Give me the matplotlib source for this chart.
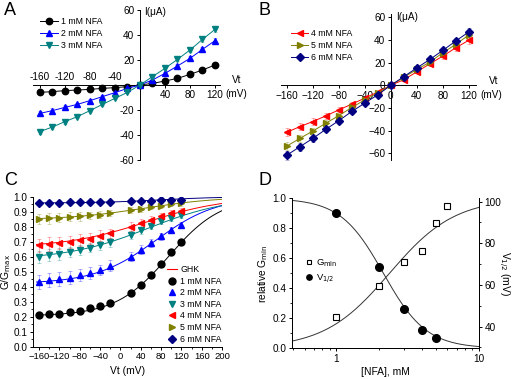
import numpy as np
import matplotlib
matplotlib.use('Agg')
import matplotlib.pyplot as plt
from matplotlib.lines import Line2D
from matplotlib.ticker import MultipleLocator, FormatStrFormatter, LogLocator, NullFormatter

plt.rcParams['font.family'] = ['Liberation Sans', 'DejaVu Sans']
plt.rcParams['axes.linewidth'] = 0.7
plt.rcParams['xtick.major.width'] = 0.7
plt.rcParams['ytick.major.width'] = 0.7
plt.rcParams['xtick.minor.width'] = 0.6
plt.rcParams['ytick.minor.width'] = 0.6
plt.rcParams['xtick.major.size'] = 2.5
plt.rcParams['ytick.major.size'] = 2.5
plt.rcParams['xtick.minor.size'] = 1.5
plt.rcParams['ytick.minor.size'] = 1.5
plt.rcParams['xtick.major.pad'] = 1.5
plt.rcParams['ytick.major.pad'] = 1.5

TICK_FS = 7.2
LEG_FS = 6.3
LAB_FS = 7.4

# ---------------- 数据 ----------------
# A / B: I-V 曲线
vt_iv = [-160, -140, -120, -100, -80, -60, -40, -20, 0, 20, 40, 60, 80, 100, 120]
i_1mM = [-5.9, -5.3, -4.5, -4.0, -3.5, -2.7, -2.1, -1.3, 0, 1.3, 3.2, 5.3, 8.5, 12.0, 16.0]
i_2mM = [-22.7, -20.5, -17.9, -15.5, -12.5, -9.3, -6.1, -2.7, 0, 4.0, 9.3, 15.2, 21.3, 28.5, 35.5]
i_3mM = [-37.3, -33.6, -29.3, -25.3, -20.5, -15.5, -10.7, -5.9, 0, 6.7, 13.3, 20.5, 28.0, 36.5, 44.5]
i_4mM = [-41.5, -36.5, -32.0, -27.0, -21.7, -16.6, -11.3, -5.9, 0, 5.0, 11.9, 19.0, 25.8, 33.2, 39.8]
i_5mM = [-53.7, -46.9, -40.4, -33.5, -26.7, -19.6, -12.8, -6.8, 0, 7.1, 14.0, 20.5, 28.8, 36.2, 44.5]
i_6mM = [-61.7, -54.3, -46.9, -38.9, -31.2, -23.1, -15.7, -8.3, 0, 7.7, 15.4, 22.8, 30.9, 39.2, 47.2]
ie_1mM = [0.8, 0.8, 0.7, 0.7, 0.6, 0.5, 0.5, 0.4, 0.2, 0.3, 0.5, 0.6, 0.8, 1.0, 1.2]
ie_2mM = [2.0, 1.8, 1.6, 1.5, 1.3, 1.1, 0.9, 0.6, 0.2, 0.6, 1.0, 1.3, 1.6, 1.9, 2.2]
ie_3mM = [1.8, 1.7, 1.5, 1.3, 1.2, 1.0, 0.8, 0.5, 0.2, 0.6, 0.9, 1.2, 1.5, 1.8, 2.0]
ie_4mM = [3.5, 3.2, 2.8, 2.5, 2.1, 1.8, 1.4, 1.0, 0.3, 0.8, 1.3, 1.8, 2.3, 2.8, 3.2]
ie_5mM = [3.8, 3.4, 3.0, 2.6, 2.2, 1.8, 1.4, 1.0, 0.3, 0.8, 1.3, 1.8, 2.3, 2.8, 3.3]
ie_6mM = [4.0, 3.6, 3.2, 2.8, 2.3, 1.9, 1.5, 1.0, 0.3, 0.9, 1.4, 1.9, 2.5, 3.0, 3.5]

# C: G/Gmax
vt_g = [-160, -140, -120, -100, -80, -60, -40, -20, 20, 40, 60, 80, 100, 120]
g_1mM = [0.21, 0.215, 0.22, 0.23, 0.24, 0.255, 0.27, 0.29, 0.355, 0.41, 0.475, 0.55, 0.63, 0.695]
g_2mM = [0.43, 0.445, 0.45, 0.46, 0.475, 0.49, 0.51, 0.54, 0.60, 0.645, 0.69, 0.735, 0.78, 0.81]
g_3mM = [0.60, 0.61, 0.62, 0.63, 0.645, 0.66, 0.675, 0.695, 0.745, 0.775, 0.805, 0.835, 0.86, 0.875]
g_4mM = [0.675, 0.685, 0.69, 0.70, 0.71, 0.72, 0.74, 0.755, 0.80, 0.825, 0.845, 0.87, 0.89, 0.905]
g_5mM = [0.85, 0.855, 0.86, 0.865, 0.87, 0.875, 0.88, 0.89, 0.91, 0.92, 0.93, 0.94, 0.95, 0.955]
g_6mM = [0.958, 0.96, 0.96, 0.962, 0.962, 0.963, 0.965, 0.966, 0.97, 0.972, 0.974, 0.975, 0.976, 0.978]
ge_1mM = [0.015] * 14
ge_2mM = [0.045, 0.045, 0.045, 0.045, 0.04, 0.04, 0.035, 0.035, 0.03, 0.03, 0.025, 0.025, 0.02, 0.02]
ge_3mM = [0.04, 0.04, 0.04, 0.035, 0.035, 0.03, 0.03, 0.03, 0.025, 0.025, 0.02, 0.02, 0.02, 0.02]
ge_4mM = [0.045, 0.045, 0.04, 0.04, 0.04, 0.035, 0.035, 0.03, 0.03, 0.025, 0.025, 0.02, 0.02, 0.02]
ge_5mM = [0.035, 0.035, 0.03, 0.03, 0.03, 0.025, 0.025, 0.02, 0.02, 0.02, 0.015, 0.015, 0.015, 0.015]
ge_6mM = [0.015] * 14
# GHK 拟合参数 (Gmin, V1/2, 斜率)
fit_gmin = [0.205, 0.42, 0.58, 0.66, 0.845, 0.958]
fit_vhalf = [95, 70, 55, 50, 45, 80]
fit_slope = [52, 60, 80, 80, 75, 60]

# D: 相对 Gmin 和 V1/2
nfa_gmin = [1, 2, 3, 4, 5, 6]
rel_gmin = [0.211, 0.416, 0.573, 0.651, 0.838, 0.951]
nfa_vhalf = [1, 2, 3, 4, 5]
v_half = [94.4, 68.8, 48.5, 38.4, 34.4]
# Hill 拟合参数
gmin_K, gmin_n = 2.36, 1.9
vh_K, vh_n, vh_lo, vh_hi = 2.14, 2.88, 29.6, 101.6

labels = ['1 mM NFA', '2 mM NFA', '3 mM NFA', '4 mM NFA', '5 mM NFA', '6 mM NFA']
colors = ['black', '#0000ff', '#008080', '#ff0000', '#808000', '#000080']
markers = ['o', '^', 'v', '<', '>', 'D']
msizes = [4.6, 4.6, 4.6, 4.6, 4.6, 3.8]

fig = plt.figure(figsize=(5.12, 3.79), dpi=100)


def px(x, y):
    return x / 512, 1 - y / 379


def iv_axes(rect, xlim, ylim):
    ax = fig.add_axes(rect)
    ax.set_xlim(*xlim)
    ax.set_ylim(*ylim)
    ax.spines['left'].set_position(('data', 0))
    ax.spines['bottom'].set_position(('data', 0))
    ax.spines['top'].set_visible(False)
    ax.spines['right'].set_visible(False)
    ax.patch.set_visible(False)
    ax.tick_params(labelsize=TICK_FS, direction='out')
    ax.set_yticks([-60, -40, -20, 0, 20, 40, 60])
    return ax


def iv_series(ax, ys, errs, k):
    ax.errorbar(vt_iv, ys, yerr=errs, color=colors[k], ecolor=colors[k], elinewidth=0.6,
                capsize=1.5, capthick=0.6, alpha=0.35, fmt='none')
    ax.plot(vt_iv, ys, color=colors[k], lw=0.7, marker=markers[k], ms=msizes[k],
            mec=colors[k], mfc=colors[k], label=labels[k], zorder=3)


# ---------------- A ----------------
axA = iv_axes([33 / 512, 1 - 162.5 / 379, 187 / 512, 155 / 379], (-171, 128), (-62, 62))
axA.spines['left'].set_bounds(-60, 60)
iv_series(axA, i_1mM, ie_1mM, 0)
iv_series(axA, i_2mM, ie_2mM, 1)
iv_series(axA, i_3mM, ie_3mM, 2)
axA.set_yticklabels(['-60', '-40', '-20', '', '20', '40', '60'])
xt_A = [-160, -120, -80, -40, 40, 80, 120]
axA.set_xticks(xt_A)
axA.set_xticklabels([])
for v in xt_A:
    if v < 0:
        axA.annotate(str(v), (v, 0), xytext=(0, 2), textcoords='offset points',
                     ha='center', va='bottom', fontsize=TICK_FS)
    else:
        axA.annotate(str(v), (v, 0), xytext=(0, -3.5), textcoords='offset points',
                     ha='center', va='top', fontsize=TICK_FS)
axA.legend(loc='upper left', bbox_to_anchor=(0.04, 0.94), frameon=False, fontsize=LEG_FS,
           handlelength=2.0, handletextpad=0.3, labelspacing=0.35, borderpad=0, borderaxespad=0)

# ---------------- B ----------------
axB = iv_axes([281 / 512, 1 - 160 / 379, 195 / 512, 146 / 379], (-169, 131), (-66, 63))
iv_series(axB, i_4mM, ie_4mM, 3)
iv_series(axB, i_5mM, ie_5mM, 4)
iv_series(axB, i_6mM, ie_6mM, 5)
axB.set_xticks([-160, -120, -80, -40, 0, 40, 80, 120])
axB.legend(loc='upper left', bbox_to_anchor=(0.05, 0.90), frameon=False, fontsize=LEG_FS,
           handlelength=2.0, handletextpad=0.3, labelspacing=0.35, borderpad=0, borderaxespad=0)

# ---------------- C ----------------
axC = fig.add_axes([33 / 512, 1 - 346.7 / 379, 189 / 512, 150 / 379])
axC.spines['top'].set_visible(False)
axC.spines['right'].set_visible(False)
v_fit = np.linspace(-165, 200, 200)
g_sets = [g_1mM, g_2mM, g_3mM, g_4mM, g_5mM, g_6mM]
ge_sets = [ge_1mM, ge_2mM, ge_3mM, ge_4mM, ge_5mM, ge_6mM]
handles = [Line2D([], [], color='#ff0000', lw=0.8, label='GHK')]
for k in range(6):
    a, vh, s = fit_gmin[k], fit_vhalf[k], fit_slope[k]
    axC.plot(v_fit, a + (1 - a) / (1 + np.exp(-(v_fit - vh) / s)), color=colors[k], lw=0.7, zorder=2)
for k in range(6):
    axC.errorbar(vt_g, g_sets[k], yerr=ge_sets[k], color=colors[k], elinewidth=0.6,
                 capsize=1.5, capthick=0.6, alpha=0.35, fmt='none')
    h, = axC.plot(vt_g, g_sets[k], ls='none', marker=markers[k], ms=msizes[k] + 0.4,
                  color=colors[k], label=labels[k], zorder=3)
    handles.append(h)
axC.set_xlim(-172, 200)
axC.set_ylim(0, 1.0)
axC.set_xticks(np.arange(-160, 201, 40))
axC.xaxis.set_minor_locator(MultipleLocator(20))
axC.set_yticks(np.arange(0, 1.01, 0.1))
axC.yaxis.set_minor_locator(MultipleLocator(0.05))
axC.yaxis.set_major_formatter(FormatStrFormatter('%.1f'))
axC.tick_params(labelsize=TICK_FS)
axC.tick_params(axis='x', pad=1, labelsize=6.8)
axC.set_xlabel('Vt (mV)', fontsize=LAB_FS, labelpad=4)
axC.set_ylabel('G/G$_{\\mathrm{max}}$', fontsize=LAB_FS, labelpad=0.5)
axC.legend(handles=handles, loc='lower right', bbox_to_anchor=(1.0, 0.02), frameon=False,
           fontsize=LEG_FS, handlelength=1.2, handletextpad=0.4, labelspacing=0.3,
           borderpad=0, borderaxespad=0)

# ---------------- D ----------------
axD = fig.add_axes([292 / 512, 1 - 348.3 / 379, 187 / 512, 150 / 379])
axD.spines['top'].set_visible(False)
axD.set_xscale('log')
axD.set_xlim(0.49, 10)
axD.set_ylim(0, 1.0)
c_fit = np.logspace(np.log10(0.49), 1, 200)
axD.plot(c_fit, c_fit ** gmin_n / (gmin_K ** gmin_n + c_fit ** gmin_n), color='#333333', lw=0.7)
hG, = axD.plot(nfa_gmin, rel_gmin, ls='none', marker='s', ms=4.2, mfc='white', mec='black',
               mew=0.8, label='G$_{\\mathrm{min}}$')
axD.set_yticks(np.arange(0, 1.01, 0.2))
axD.yaxis.set_minor_locator(MultipleLocator(0.1))
axD.yaxis.set_major_formatter(FormatStrFormatter('%.1f'))
axD.xaxis.set_major_locator(LogLocator(base=10))
axD.xaxis.set_minor_locator(LogLocator(base=10, subs=np.arange(2, 10)))
axD.xaxis.set_minor_formatter(NullFormatter())
axD.set_xticks([1, 10])
axD.set_xticklabels(['1', '10'])
axD.tick_params(labelsize=TICK_FS)
axD.set_xlabel('[NFA], mM', fontsize=LAB_FS, labelpad=2)
axD.set_ylabel('relative G$_{\\mathrm{min}}$', fontsize=LAB_FS, labelpad=2)

axD2 = axD.twinx()
axD2.spines['top'].set_visible(False)
axD2.set_ylim(vh_lo, vh_hi)
axD2.plot(c_fit, vh_lo + (vh_hi - vh_lo) / (1 + (c_fit / vh_K) ** vh_n), color='#333333', lw=0.7)
hV, = axD2.plot(nfa_vhalf, v_half, ls='none', marker='o', ms=5.5, color='black', label='V$_{1/2}$')
axD2.set_yticks([40, 60, 80, 100])
axD2.yaxis.set_minor_locator(MultipleLocator(10))
axD2.tick_params(labelsize=TICK_FS)
axD2.set_ylabel('V$_{1/2}$ (mV)', fontsize=LAB_FS, rotation=270, labelpad=7)
axD2.legend(handles=[hG, hV], loc='center left', bbox_to_anchor=(0.07, 0.515), frameon=False,
            fontsize=LEG_FS + 0.5, markerscale=0.7, handlelength=0.8, handletextpad=0.4,
            labelspacing=0.4, borderpad=0, borderaxespad=0)

# ---------------- 文字 ----------------
for txt, (x, y) in [('A', (4, 2)), ('B', (258, 2)), ('C', (4, 172)), ('D', (258, 172))]:
    fig.text(*px(x, y), txt, fontsize=13, ha='left', va='top')
fig.text(*px(144, 12), 'I(\u03bcA)', fontsize=TICK_FS, ha='left', va='center')
fig.text(*px(232, 80), 'Vt', fontsize=TICK_FS, ha='left', va='center')
fig.text(*px(225, 94), '(mV)', fontsize=TICK_FS, ha='left', va='center')
fig.text(*px(396, 17), 'I(\u03bcA)', fontsize=TICK_FS, ha='left', va='center')
fig.text(*px(489, 81), 'Vt', fontsize=TICK_FS, ha='left', va='center')
fig.text(*px(480, 95), '(mV)', fontsize=TICK_FS, ha='left', va='center')

plt.savefig('out.png', dpi=100)
